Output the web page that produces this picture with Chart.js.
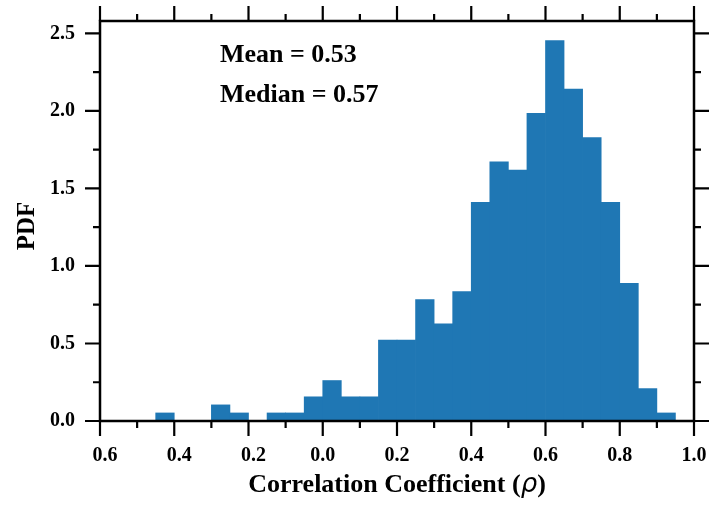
<!DOCTYPE html>
<html>
<head>
<meta charset="utf-8">
<script src="https://cdn.jsdelivr.net/npm/chart.js@4.4.1/dist/chart.umd.min.js"></script>
<style>
    html, body { margin: 0; padding: 0; background: #fff; }
</style>
</head>
<body>
<canvas id="histChart" width="711" height="506"></canvas>
<script>
// histogram bins (width 0.05), centres and PDF heights
const binCenters = [
    -0.425, -0.375, -0.325, -0.275, -0.225, -0.175, -0.125, -0.075, -0.025,
    0.025, 0.075, 0.125, 0.175, 0.225, 0.275, 0.325, 0.375, 0.425, 0.475,
    0.525, 0.575, 0.625, 0.675, 0.725, 0.775, 0.825, 0.875, 0.925
];
const pdfValues = [
    0.052, 0, 0, 0.104, 0.052, 0, 0.052, 0.052, 0.156,
    0.261, 0.156, 0.156, 0.522, 0.522, 0.783, 0.627, 0.835, 1.410, 1.671,
    1.619, 1.984, 2.454, 2.141, 1.828, 1.410, 0.888, 0.209, 0.052
];

// axis ticks
const xMajorTicks = [-0.6, -0.4, -0.2, 0.0, 0.2, 0.4, 0.6, 0.8, 1.0];
const xMinorTicks = [-0.5, -0.3, -0.1, 0.1, 0.3, 0.5, 0.7, 0.9];
const yMajorTicks = [0, 0.5, 1.0, 1.5, 2.0, 2.5];
const yMinorTicks = [0.25, 0.75, 1.25, 1.75, 2.25];

const statLines = ["Mean = 0.53", "Median = 0.57"];
const xTitle = ["Correlation Coefficient (", "\u03C1", ")"];
const yTitle = "PDF";

const serif = "'Liberation Serif', 'Times New Roman', serif";

// box, mirrored ticks, titles and the stats text
const framePlugin = {
    id: "framePlugin",
    afterDraw(chart) {
        const { ctx, chartArea: a, scales } = chart;
        const x = scales.x;
        const y = scales.y;
        ctx.save();
        ctx.strokeStyle = "#000";
        ctx.lineWidth = 2.5;
        ctx.strokeRect(a.left, a.top, a.right - a.left, a.bottom - a.top);

        const xTicks = (vals, len) => {
            vals.forEach(v => {
                const px = x.getPixelForValue(v);
                ctx.beginPath();
                ctx.moveTo(px, a.bottom);
                ctx.lineTo(px, a.bottom + len);
                ctx.moveTo(px, a.top);
                ctx.lineTo(px, a.top - len);
                ctx.stroke();
            });
        };
        const yTicks = (vals, len) => {
            vals.forEach(v => {
                const py = y.getPixelForValue(v);
                ctx.beginPath();
                ctx.moveTo(a.left, py);
                ctx.lineTo(a.left - len, py);
                ctx.moveTo(a.right, py);
                ctx.lineTo(a.right + len, py);
                ctx.stroke();
            });
        };
        ctx.lineWidth = 2.2;
        xTicks(xMajorTicks, 15);
        xTicks(xMinorTicks, 7);
        yTicks(yMajorTicks, 15);
        yTicks(yMinorTicks, 7);

        ctx.fillStyle = "#000";

        // stats text
        ctx.font = "bold 26px " + serif;
        ctx.textAlign = "left";
        ctx.textBaseline = "alphabetic";
        ctx.fillText(statLines[0], 220, 62);
        ctx.fillText(statLines[1], 220, 102);

        // x title, rho in oblique sans like mathtext
        const fonts = ["bold 26px " + serif, "italic 26px 'DejaVu Sans'", "bold 26px " + serif];
        let total = 0;
        const widths = xTitle.map((t, i) => {
            ctx.font = fonts[i];
            const w = ctx.measureText(t).width;
            total += w;
            return w;
        });
        let tx = (a.left + a.right) / 2 - total / 2;
        xTitle.forEach((t, i) => {
            ctx.font = fonts[i];
            ctx.fillText(t, tx, 492);
            tx += widths[i];
        });

        // y title
        ctx.translate(28, 226);
        ctx.rotate(-Math.PI / 2);
        ctx.font = "bold 25px " + serif;
        ctx.textAlign = "center";
        ctx.textBaseline = "middle";
        ctx.fillText(yTitle, 0, 0);
        ctx.restore();
    }
};

const ctx = document.getElementById("histChart").getContext("2d");
new Chart(ctx, {
    type: "bar",
    data: {
        datasets: [{
            data: binCenters.map((c, i) => ({ x: c, y: pdfValues[i] })),
            backgroundColor: "#1f77b4",
            borderWidth: 0,
            barPercentage: 1.0,
            categoryPercentage: 1.0
        }]
    },
    options: {
        responsive: false,
        animation: false,
        devicePixelRatio: 1,
        layout: { padding: { top: 21, right: 17, left: 0, bottom: 0 } },
        plugins: {
            legend: { display: false },
            tooltip: { enabled: false }
        },
        scales: {
            x: {
                type: "linear",
                min: -0.6,
                max: 1.0,
                offset: false,
                // grid hidden; tickLength only pushes the labels down
                grid: { display: false, drawTicks: true, tickLength: 21, offset: false },
                border: { display: false },
                ticks: {
                    stepSize: 0.2,
                    padding: 2,
                    maxRotation: 0,
                    color: "#000",
                    font: { family: serif, size: 20, weight: "bold" },
                    callback: v => (v < -1e-9 ? "\u2002" : "") + Math.abs(v).toFixed(1)
                },
                afterFit: s => { s.height = 85; }
            },
            y: {
                min: 0,
                max: 2.58,
                grid: { display: false, drawTicks: true, tickLength: 22 },
                border: { display: false },
                ticks: {
                    stepSize: 0.5,
                    includeBounds: false,
                    padding: 3,
                    color: "#000",
                    font: { family: serif, size: 20, weight: "bold" },
                    callback: v => v.toFixed(1)
                },
                afterFit: s => { s.width = 100; }
            }
        }
    },
    plugins: [framePlugin]
});
</script>
</body>
</html>
